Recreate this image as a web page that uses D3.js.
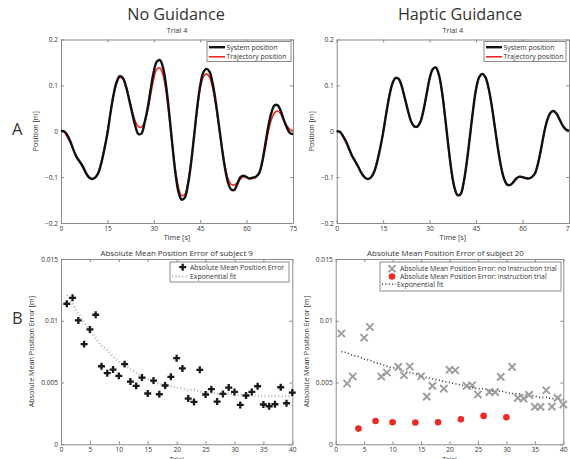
<!DOCTYPE html>
<html>
<head>
<meta charset="utf-8">
<script src="https://cdn.jsdelivr.net/npm/d3@7"></script>
<style>
  body { margin: 0; background: #fff; }
  text { font-family: "Open Sans", sans-serif; fill: #333; }
</style>
</head>
<body>
<svg id="chart" width="570" height="459"></svg>
<script>
// ---- data ----
const timeSec = [0,1,2,3,4,5,6,7,8,9,10,11,12,13,14,15,16,17,18,19,20,21,22,23,24,25,26,27,28,29,30,
  31,32,33,34,35,36,37,38,39,40,41,42,43,44,45,46,47,48,49,50,51,52,53,54,55,56,57,58,59,60,
  61,62,63,64,65,66,67,68,69,70,71,72,73,74,75];

// reference trajectory (red), same in both trials
const trajectoryPos = [0.000,-0.002,-0.012,-0.025,-0.040,-0.055,-0.066,-0.078,-0.092,-0.101,-0.104,
  -0.101,-0.090,-0.068,-0.038,-0.002,0.040,0.078,0.105,0.117,0.114,0.098,0.072,0.045,0.022,0.010,
  0.009,0.020,0.045,0.080,0.115,0.135,0.138,0.122,0.085,0.030,-0.030,-0.085,-0.123,-0.140,-0.138,
  -0.112,-0.068,-0.012,0.045,0.092,0.118,0.125,0.118,0.095,0.058,0.012,-0.035,-0.075,-0.103,-0.116,
  -0.117,-0.112,-0.104,-0.099,-0.100,-0.103,-0.103,-0.100,-0.092,-0.070,-0.038,-0.002,0.025,0.040,
  0.044,0.038,0.025,0.012,0.004,0.001];

// system position, no guidance
const systemNoGuid = [0.000,0.000,-0.008,-0.022,-0.040,-0.056,-0.066,-0.076,-0.090,-0.100,-0.104,
  -0.101,-0.092,-0.070,-0.040,-0.005,0.040,0.080,0.108,0.120,0.116,0.098,0.070,0.040,0.012,-0.006,
  -0.005,0.018,0.050,0.092,0.130,0.152,0.155,0.138,0.098,0.038,-0.030,-0.092,-0.133,-0.149,-0.145,
  -0.118,-0.072,-0.012,0.050,0.100,0.128,0.136,0.130,0.105,0.065,0.016,-0.035,-0.080,-0.112,-0.127,
  -0.128,-0.115,-0.100,-0.097,-0.100,-0.103,-0.101,-0.099,-0.092,-0.068,-0.030,0.010,0.040,0.056,
  0.057,0.045,0.025,0.008,-0.004,-0.006];

// system position, haptic guidance
const systemHaptic = [0.000,-0.001,-0.010,-0.022,-0.038,-0.054,-0.066,-0.078,-0.091,-0.100,-0.104,
  -0.101,-0.090,-0.068,-0.038,-0.003,0.039,0.077,0.104,0.116,0.114,0.098,0.072,0.045,0.022,0.011,
  0.010,0.020,0.045,0.080,0.115,0.135,0.139,0.123,0.086,0.031,-0.029,-0.084,-0.122,-0.139,-0.137,
  -0.111,-0.067,-0.012,0.045,0.092,0.118,0.125,0.118,0.095,0.058,0.012,-0.035,-0.075,-0.103,-0.116,
  -0.117,-0.111,-0.103,-0.099,-0.100,-0.102,-0.103,-0.100,-0.092,-0.070,-0.038,-0.002,0.025,0.040,
  0.044,0.038,0.025,0.012,0.004,0.001];

const trials = [1,2,3,4,5,6,7,8,9,10,11,12,13,14,15,16,17,18,19,20,
  21,22,23,24,25,26,27,28,29,30,31,32,33,34,35,36,37,38,39,40];

// subject 9
const errS9 = [0.01138,0.01186,0.01003,0.00811,0.00930,0.01049,0.00632,0.00576,0.00605,0.00554,
  0.00649,0.00508,0.00473,0.00540,0.00411,0.00516,0.00405,0.00476,0.00546,0.00697,
  0.00614,0.00370,0.00343,0.00603,0.00403,0.00446,0.00346,0.00408,0.00459,0.00424,
  0.00319,0.00395,0.00424,0.00470,0.00322,0.00308,0.00324,0.00462,0.00332,0.00419];
const fitS9 = [0.0121,0.0114,0.0106,0.0099,0.0092,0.0086,0.0080,0.0076,0.0071,0.0067,
  0.0064,0.0061,0.0058,0.0055,0.0053,0.0051,0.0049,0.0048,0.0047,0.0046,
  0.0045,0.0044,0.0044,0.0043,0.0042,0.0042,0.0041,0.0041,0.0041,0.0040,
  0.0040,0.0040,0.0040,0.0039,0.0039,0.0039,0.0039,0.0039,0.0039,0.0039];

// subject 20
const noInstrTrials = [1,2,3,5,6,8,9,11,12,13,15,16,17,19,20,21,23,24,25,27,28,29,31,32,33,34,35,36,37,38,39,40];
const noInstrErr = [0.00897,0.00492,0.00549,0.00862,0.00949,0.00549,0.00581,0.00627,0.00559,0.00630,
  0.00551,0.00386,0.00473,0.00451,0.00603,0.00600,0.00473,0.00478,0.00403,0.00422,0.00422,0.00546,
  0.00627,0.00376,0.00370,0.00400,0.00303,0.00303,0.00438,0.00305,0.00376,0.00322];
const instrTrials = [4,7,10,14,18,22,26,30];
const instrErr = [0.00127,0.00189,0.00178,0.00176,0.00178,0.00203,0.00230,0.00219];
const fitS20 = [0.0075,0.0074,0.0072,0.0071,0.0069,0.0068,0.0066,0.0065,0.0063,0.0062,
  0.0061,0.0059,0.0058,0.0057,0.0055,0.0054,0.0053,0.0052,0.0051,0.0050,
  0.0049,0.0048,0.0047,0.0046,0.0045,0.0045,0.0044,0.0043,0.0043,0.0042,
  0.0041,0.0041,0.0040,0.0040,0.0039,0.0038,0.0038,0.0037,0.0037,0.0036];

const timeTicks = [0,15,30,45,60,75];
const posTicks = [-0.2,-0.1,0,0.1,0.2];
const trialTicks = [0,5,10,15,20,25,30,35,40];
const errTicks = [0,0.005,0.01,0.015];

// ---- drawing ----
const svg = d3.select("#chart");
const axisColor = "#8a8a8a";
const red = "#ee2a24";
const legendFont = 6.9;

function frame(box, x, y, xTicks, yTicks, yFmt) {
  const g = svg.append("g");
  const styleAxis = sel => {
    sel.select(".domain").attr("stroke", axisColor);
    sel.selectAll(".tick line").attr("stroke", axisColor);
    sel.selectAll(".tick text").attr("font-size", 6.6).attr("fill", "#333")
      .attr("font-family", "'Open Sans', sans-serif");
  };
  g.append("g").attr("transform", `translate(0,${box.y1})`)
    .call(d3.axisBottom(x).tickValues(xTicks).tickSizeInner(-3).tickSizeOuter(0).tickPadding(3)
      .tickFormat(d3.format("d")))
    .call(styleAxis);
  g.append("g").attr("transform", `translate(${box.x0},0)`)
    .call(d3.axisLeft(y).tickValues(yTicks).tickSizeInner(-3).tickSizeOuter(0).tickPadding(3)
      .tickFormat(yFmt))
    .call(styleAxis);
  g.append("g").attr("transform", `translate(0,${box.y0})`)
    .call(d3.axisTop(x).tickValues(xTicks).tickSizeInner(-3).tickSizeOuter(0).tickFormat(""))
    .call(styleAxis);
  g.append("g").attr("transform", `translate(${box.x1},0)`)
    .call(d3.axisRight(y).tickValues(yTicks).tickSizeInner(-3).tickSizeOuter(0).tickFormat(""))
    .call(styleAxis);
  return g;
}

function legendBox(x, y, w, h) {
  svg.append("rect").attr("x", x).attr("y", y).attr("width", w).attr("height", h)
    .attr("fill", "#fff").attr("stroke", axisColor).attr("stroke-width", 1);
}

function legendText(x, y, s) {
  svg.append("text").attr("x", x).attr("y", y).attr("dy", "0.35em")
    .attr("font-size", legendFont).text(s);
}

const posFmt = d => d === 0 ? "0" : d3.format(".1f")(d);
const errFmt = d => d === 0 ? "0" : String(d);

// ---------- top panels ----------
const topPanels = [
  { box: {x0: 61, x1: 293, y0: 39.5, y1: 223}, sys: systemNoGuid, title: "No Guidance",
    titleX: 176, legend: {x: 207, w: 84, lineX: 209} },
  { box: {x0: 336.7, x1: 569, y0: 39.5, y1: 223}, sys: systemHaptic, title: "Haptic Guidance",
    titleX: 460, legend: {x: 484, w: 82, lineX: 486} }
];

topPanels.forEach(p => {
  const b = p.box;
  const x = d3.scaleLinear().domain([0, 75]).range([b.x0, b.x1]);
  const y = d3.scaleLinear().domain([-0.2, 0.2]).range([b.y1, b.y0]);
  frame(b, x, y, timeTicks, posTicks, posFmt);

  const line = d3.line().x((d, i) => x(timeSec[i])).y(d => y(d)).curve(d3.curveCatmullRom);
  svg.append("path").datum(trajectoryPos).attr("d", line)
    .attr("fill", "none").attr("stroke", red).attr("stroke-width", 1.6);
  svg.append("path").datum(p.sys).attr("d", line)
    .attr("fill", "none").attr("stroke", "#111").attr("stroke-width", 2.4);

  const cx = (b.x0 + b.x1) / 2;
  svg.append("text").attr("x", p.titleX).attr("y", 20).attr("text-anchor", "middle")
    .attr("font-size", 16.2).attr("fill", "#222").text(p.title);
  svg.append("text").attr("x", cx).attr("y", 33).attr("text-anchor", "middle")
    .attr("font-size", 7.2).text("Trial 4");
  svg.append("text").attr("x", cx).attr("y", 240).attr("text-anchor", "middle")
    .attr("font-size", 7.2).text("Time [s]");
  svg.append("text").attr("transform", `translate(${b.x0 - 23},${(b.y0 + b.y1) / 2}) rotate(-90)`)
    .attr("text-anchor", "middle").attr("font-size", 7.2).text("Position [m]");

  const L = p.legend;
  legendBox(L.x, 41.5, L.w, 20);
  svg.append("line").attr("x1", L.lineX).attr("x2", L.lineX + 16).attr("y1", 47.2).attr("y2", 47.2)
    .attr("stroke", "#111").attr("stroke-width", 2.4);
  svg.append("line").attr("x1", L.lineX).attr("x2", L.lineX + 16).attr("y1", 56.8).attr("y2", 56.8)
    .attr("stroke", red).attr("stroke-width", 1.6);
  legendText(L.lineX + 17.5, 47.2, "System position");
  legendText(L.lineX + 17.5, 56.8, "Trajectory position");
});

// ---------- bottom-left: subject 9 ----------
{
  const b = {x0: 61, x1: 292.3, y0: 259, y1: 444.3};
  const x = d3.scaleLinear().domain([0, 40]).range([b.x0, b.x1]);
  const y = d3.scaleLinear().domain([0, 0.015]).range([b.y1, b.y0]);
  frame(b, x, y, trialTicks, errTicks, errFmt);

  svg.append("path").datum(fitS9)
    .attr("d", d3.line().x((d, i) => x(trials[i])).y(d => y(d)).curve(d3.curveMonotoneX))
    .attr("fill", "none").attr("stroke", "#c4c4c4").attr("stroke-width", 2.6)
    .attr("stroke-dasharray", "1.2,2.2");

  const plus = d3.symbol().type(d3.symbolCross).size(27);
  svg.append("g").selectAll("path").data(errS9).join("path")
    .attr("transform", (d, i) => `translate(${x(trials[i])},${y(d)})`)
    .attr("d", plus).attr("fill", "#1a1a1a");

  const cx = (b.x0 + b.x1) / 2;
  svg.append("text").attr("x", cx).attr("y", 255.5).attr("text-anchor", "middle")
    .attr("font-size", 7.9).text("Absolute Mean Position Error of subject 9");
  svg.append("text").attr("x", cx).attr("y", 462).attr("text-anchor", "middle")
    .attr("font-size", 7.2).text("Trial");
  svg.append("text").attr("transform", `translate(${b.x0 - 27},${(b.y0 + b.y1) / 2}) rotate(-90)`)
    .attr("text-anchor", "middle").attr("font-size", 7.2).text("Absolute Mean Position Error [m]");

  legendBox(170, 262, 119, 20);
  svg.append("path").attr("transform", "translate(182.7,267.2)").attr("d", plus).attr("fill", "#1a1a1a");
  svg.append("line").attr("x1", 172).attr("x2", 188).attr("y1", 276.8).attr("y2", 276.8)
    .attr("stroke", "#c4c4c4").attr("stroke-width", 2.6).attr("stroke-dasharray", "1.2,2.2");
  legendText(190, 267.2, "Absolute Mean Position Error");
  legendText(190, 276.8, "Exponential fit");
}

// ---------- bottom-right: subject 20 ----------
{
  const b = {x0: 335.7, x1: 563.3, y0: 259, y1: 444.3};
  const x = d3.scaleLinear().domain([0, 40]).range([b.x0, b.x1]);
  const y = d3.scaleLinear().domain([0, 0.015]).range([b.y1, b.y0]);
  frame(b, x, y, trialTicks, errTicks, errFmt);

  svg.append("path").datum(fitS20)
    .attr("d", d3.line().x((d, i) => x(trials[i])).y(d => y(d)).curve(d3.curveMonotoneX))
    .attr("fill", "none").attr("stroke", "#333").attr("stroke-width", 1.6)
    .attr("stroke-dasharray", "1,2.4");

  const cross = d3.symbol().type(d3.symbolX).size(36);
  svg.append("g").selectAll("path").data(noInstrErr).join("path")
    .attr("transform", (d, i) => `translate(${x(noInstrTrials[i])},${y(d)})`)
    .attr("d", cross).attr("fill", "none").attr("stroke", "#9d9d9d").attr("stroke-width", 1.9);

  svg.append("g").selectAll("circle").data(instrErr).join("circle")
    .attr("cx", (d, i) => x(instrTrials[i])).attr("cy", d => y(d)).attr("r", 3.3)
    .attr("fill", red);

  const cx = (b.x0 + b.x1) / 2;
  svg.append("text").attr("x", cx - 4).attr("y", 255.5).attr("text-anchor", "middle")
    .attr("font-size", 7.9).text("Absolute Mean Position Error of subject 20");
  svg.append("text").attr("x", cx).attr("y", 462).attr("text-anchor", "middle")
    .attr("font-size", 7.2).text("Trial");
  svg.append("text").attr("transform", `translate(${b.x0 - 27},${(b.y0 + b.y1) / 2}) rotate(-90)`)
    .attr("text-anchor", "middle").attr("font-size", 7.2).text("Absolute Mean Position Error [m]");

  legendBox(380, 262, 181, 29);
  svg.append("path").attr("transform", "translate(392,268.8)").attr("d", cross)
    .attr("fill", "none").attr("stroke", "#9d9d9d").attr("stroke-width", 1.9);
  svg.append("circle").attr("cx", 392).attr("cy", 276.5).attr("r", 3.3).attr("fill", red);
  svg.append("line").attr("x1", 382).attr("x2", 396).attr("y1", 284.2).attr("y2", 284.2)
    .attr("stroke", "#333").attr("stroke-width", 1.6).attr("stroke-dasharray", "1,2.4");
  legendText(400, 268.8, "Absolute Mean Position Error: no instruction trial");
  legendText(400, 276.5, "Absolute Mean Position Error: instruction trial");
  legendText(397, 284.2, "Exponential fit");
}

// panel letters
svg.append("text").attr("x", 12).attr("y", 135).attr("font-size", 16.5).attr("fill", "#222").text("A");
svg.append("text").attr("x", 12).attr("y", 324).attr("font-size", 16.5).attr("fill", "#222").text("B");
</script>
</body>
</html>
